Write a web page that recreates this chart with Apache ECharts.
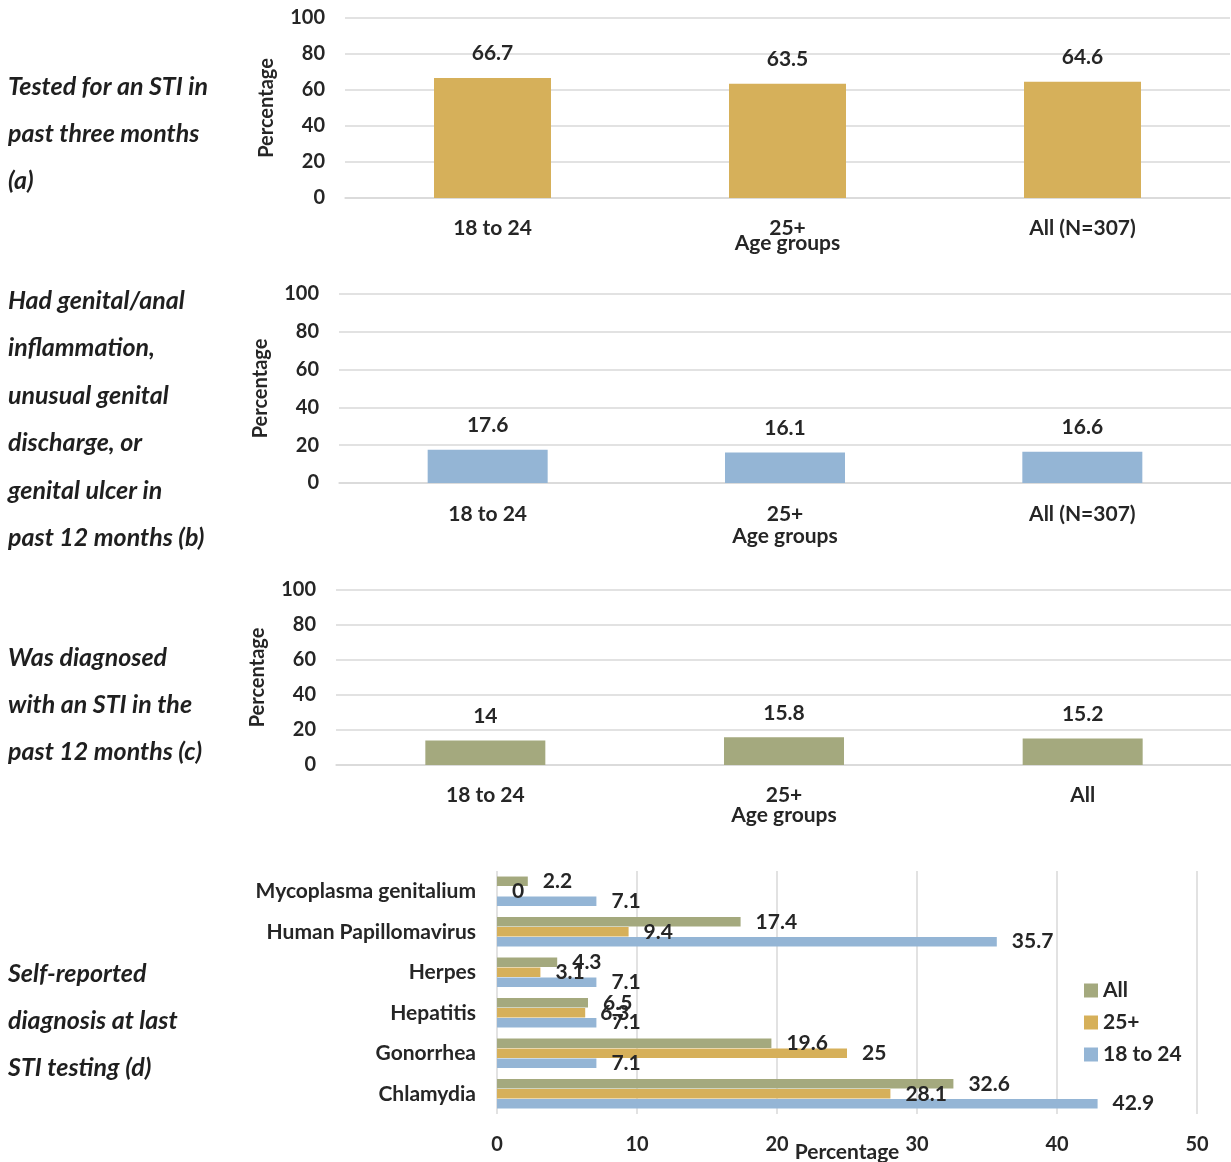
<!DOCTYPE html>
<html>
<head>
<meta charset="utf-8">
<script src="https://cdn.jsdelivr.net/npm/echarts@6/dist/echarts.min.js"></script>
<style>
  html, body { margin: 0; padding: 0; background: #fff; }
  #chart { width: 1231px; height: 1162px; }
</style>
</head>
<body>
<div id="chart"></div>
<script>
// Age-group categories for panels (a)-(c)
const ageGroupsAB = ['18 to 24', '25+', 'All (N=307)'];
const ageGroupsC = ['18 to 24', '25+', 'All'];
// Panel values (percentages)
const testedPct = [66.7, 63.5, 64.6];
const symptomPct = [17.6, 16.1, 16.6];
const diagnosedPct = [14, 15.8, 15.2];
// Panel (d): self-reported diagnosis by infection
const infections = ['Mycoplasma genitalium', 'Human Papillomavirus', 'Herpes', 'Hepatitis', 'Gonorrhea', 'Chlamydia'];
const diagAll = [2.2, 17.4, 4.3, 6.5, 19.6, 32.6];
const diag25plus = [0, 9.4, 3.1, 6.3, 25, 28.1];
const diag18to24 = [7.1, 35.7, 7.1, 7.1, 7.1, 42.9];
const pctTicks = [0, 20, 40, 60, 80, 100];
// Row captions on the left
const captionA = ['Tested for an STI in', 'past three months', '(a)'];
const captionB = ['Had genital/anal', 'inflammation,', 'unusual genital', 'discharge, or', 'genital ulcer in', 'past 12 months (b)'];
const captionC = ['Was diagnosed', 'with an STI in the', 'past 12 months (c)'];
const captionD = ['Self-reported', 'diagnosis at last', 'STI testing (d)'];

const FONT = 'Lato, "Open Sans", sans-serif';
const TXT = '#262626';
const GRID_LINE = '#d9d9d9';
const GOLD = '#d6b05a';
const BLUE = '#94b5d5';
const GREEN = '#a4a97e';
const tickStyle = { color: TXT, fontFamily: FONT, fontSize: 20, fontWeight: 'bold' };
const textStyle = { color: TXT, fontFamily: FONT, fontSize: 21, fontWeight: 'bold' };

const panels = [
  { cats: ageGroupsAB, vals: testedPct, color: GOLD, left: 345, width: 885, top: 18, height: 180, barWidth: 117, labelMargin: 20, nameGap: 35 },
  { cats: ageGroupsAB, vals: symptomPct, color: BLUE, left: 339, width: 892, top: 294, height: 189, barWidth: 120, labelMargin: 21, nameGap: 43 },
  { cats: ageGroupsC, vals: diagnosedPct, color: GREEN, left: 336, width: 896, top: 590, height: 175, barWidth: 120, labelMargin: 20, nameGap: 40 }
];

const grids = [], xAxes = [], yAxes = [], series = [];

panels.forEach((p, i) => {
  grids.push({ left: p.left, top: p.top, width: p.width, height: p.height, outerBoundsMode: 'none', containLabel: false });
  xAxes.push({
    type: 'category', gridIndex: i, data: p.cats,
    axisLine: { show: true, lineStyle: { color: GRID_LINE, width: 1.5 } },
    axisTick: { show: false },
    axisLabel: Object.assign({ margin: p.labelMargin }, textStyle),
    name: 'Age groups', nameLocation: 'middle', nameGap: p.nameGap, nameMoveOverlap: false,
    nameTextStyle: textStyle
  });
  yAxes.push({
    type: 'value', gridIndex: i, min: pctTicks[0], max: pctTicks[pctTicks.length - 1], interval: 20,
    axisLine: { show: false }, axisTick: { show: false },
    splitLine: { lineStyle: { color: GRID_LINE, width: 1.5 } },
    axisLabel: Object.assign({ margin: 20 }, tickStyle),
    name: 'Percentage', nameLocation: 'middle', nameGap: 68, nameRotate: 90, nameMoveOverlap: false,
    nameTextStyle: tickStyle
  });
  series.push({
    type: 'bar', xAxisIndex: i, yAxisIndex: i, data: p.vals, barWidth: p.barWidth,
    itemStyle: { color: p.color },
    label: Object.assign({ show: true, position: 'top', distance: 14 }, textStyle),
    silent: true
  });
});

// Panel (d): horizontal grouped bars
grids.push({ left: 497, width: 700, top: 871, height: 243, outerBoundsMode: 'none', containLabel: false });
xAxes.push({
  type: 'value', gridIndex: 3, min: 0, max: 50, interval: 10,
  axisLine: { show: false }, axisTick: { show: false },
  splitLine: { lineStyle: { color: GRID_LINE, width: 1.5 } },
  axisLabel: Object.assign({ margin: 21 }, tickStyle),
  name: 'Percentage', nameLocation: 'middle', nameGap: 28, nameMoveOverlap: false,
  nameTextStyle: textStyle
});
yAxes.push({
  type: 'category', gridIndex: 3, data: infections, inverse: true,
  axisLine: { show: false }, axisTick: { show: false },
  axisLabel: Object.assign({ margin: 21 }, textStyle)
});
const hbarLabel = Object.assign({ show: true, position: 'right', distance: 15 }, textStyle);
[['All', diagAll, GREEN], ['25+', diag25plus, GOLD], ['18 to 24', diag18to24, BLUE]].forEach(([name, vals, color]) => {
  series.push({
    type: 'bar', name, xAxisIndex: 3, yAxisIndex: 3, data: vals, barWidth: 9.5, barGap: '5%',
    itemStyle: { color }, label: hbarLabel, silent: true
  });
});

// Left-hand captions as text graphics
const graphic = [];
function addCaption(lines, firstY, step) {
  lines.forEach((t, k) => {
    graphic.push({
      type: 'text', left: 8, top: firstY + k * step - 13,
      style: { text: t, fill: '#1f1f1f', font: 'italic bold 25px ' + FONT }
    });
  });
}
addCaption(captionA, 87, 47);
addCaption(captionB, 301, 47.5);
addCaption(captionC, 658, 47);
addCaption(captionD, 974, 47);

const chart = echarts.init(document.getElementById('chart'), null, { renderer: 'canvas' });
chart.setOption({
  animation: false,
  backgroundColor: '#fff',
  grid: grids,
  xAxis: xAxes,
  yAxis: yAxes,
  series,
  graphic,
  legend: {
    data: ['All', '25+', '18 to 24'],
    orient: 'vertical', left: 1079, top: 975,
    icon: 'rect', itemWidth: 14, itemHeight: 14, itemGap: 11,
    textStyle: textStyle,
    selectedMode: false
  }
});
</script>
</body>
</html>
